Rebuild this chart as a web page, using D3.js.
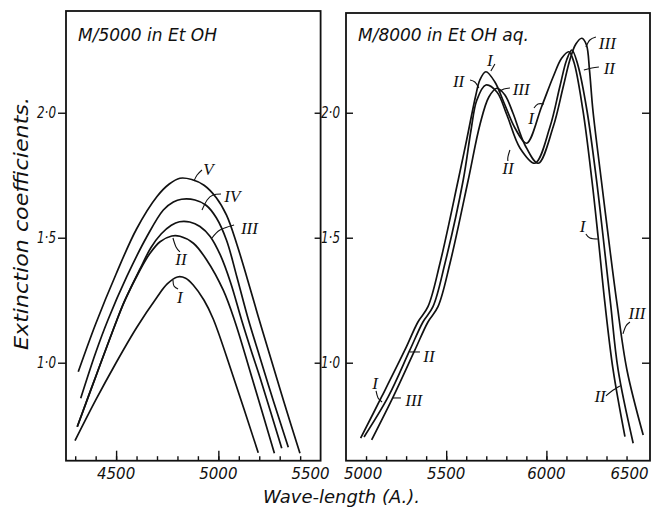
<!DOCTYPE html>
<html><head><meta charset="utf-8">
<script src="https://cdn.jsdelivr.net/npm/d3@7/dist/d3.min.js"></script>
<style>
html,body{margin:0;padding:0;background:#fff;}
svg{display:block;}
</style></head>
<body>
<script>
// ---------- DATA (wave-length in Å, extinction coefficient) ----------
const leftTitle = "M/5000 in Et OH";
const rightTitle = "M/8000 in Et OH aq.";
const yTickValues = [1.0, 1.5, 2.0];
const leftXLabels = [4500, 5000, 5500];
const rightXLabels = [5000, 5500, 6000, 6500];
const leftMinorTicks = d3.range(4300, 5500, 100);
const rightMinorTicks = d3.range(5100, 6500, 100);

// Left panel: M/5000 in EtOH
const leftI = [[4299,0.688],[4400,0.85],[4500,1.0],[4600,1.14],[4700,1.262],[4750,1.315],[4800,1.343],[4840,1.338],[4878,1.31],[4930,1.25],[4975,1.175],[5073,0.944],[5195,0.640]];
const leftII = [[4310,0.744],[4407,0.959],[4504,1.171],[4544,1.251],[4617,1.371],[4666,1.438],[4715,1.484],[4772,1.507],[4812,1.506],[4878,1.478],[4943,1.411],[5024,1.29],[5081,1.165],[5163,0.944],[5274,0.638]];
const leftIII = [[4310,0.744],[4407,0.959],[4504,1.171],[4544,1.251],[4617,1.375],[4670,1.46],[4720,1.515],[4770,1.55],[4810,1.564],[4860,1.563],[4910,1.545],[4960,1.505],[5010,1.43],[5060,1.32],[5114,1.17],[5160,1.05],[5204,0.94],[5310,0.658]];
const leftIV = [[4327,0.858],[4400,1.04],[4460,1.171],[4552,1.344],[4650,1.504],[4731,1.611],[4780,1.643],[4820,1.654],[4886,1.651],[4940,1.63],[4990,1.58],[5040,1.49],[5090,1.345],[5146,1.175],[5200,1.03],[5270,0.845],[5342,0.662]];
const leftV = [[4315,0.964],[4400,1.155],[4500,1.355],[4600,1.535],[4700,1.665],[4760,1.715],[4812,1.738],[4870,1.733],[4930,1.71],[4990,1.66],[5040,1.59],[5090,1.475],[5140,1.34],[5195,1.185],[5250,1.035],[5320,0.845],[5399,0.638]];

// Right panel: M/8000 in aqueous EtOH
const rightI = [[5073,0.698],[5178,0.864],[5294,1.051],[5359,1.163],[5409,1.224],[5469,1.398],[5560,1.731],[5602,1.891],[5648,2.071],[5668,2.131],[5698,2.164],[5743,2.123],[5793,2.031],[5843,1.939],[5901,1.878],[5976,2.024],[6034,2.144],[6076,2.218],[6112,2.244],[6137,2.203],[6182,2.011],[6227,1.731],[6258,1.504],[6292,1.238],[6333,0.971],[6392,0.704]];
const rightII = [[5090,0.703],[5211,0.864],[5319,1.051],[5384,1.163],[5434,1.224],[5494,1.398],[5585,1.731],[5624,1.931],[5653,2.051],[5698,2.111],[5753,2.083],[5803,1.991],[5868,1.859],[5943,1.798],[6018,1.944],[6067,2.104],[6101,2.211],[6127,2.251],[6157,2.191],[6202,2.011],[6250,1.731],[6283,1.504],[6320,1.238],[6358,0.971],[6433,0.678]];
const rightIII = [[5128,0.691],[5236,0.864],[5344,1.051],[5409,1.163],[5459,1.224],[5519,1.398],[5610,1.731],[5668,1.951],[5713,2.063],[5753,2.098],[5793,2.071],[5833,1.999],[5893,1.871],[5959,1.798],[6034,1.944],[6084,2.104],[6117,2.211],[6147,2.275],[6177,2.298],[6200,2.271],[6215,2.171],[6232,2.011],[6274,1.731],[6309,1.504],[6352,1.238],[6402,0.971],[6483,0.711]];

// Curve labels: text, label centre and leader line (data coordinates)
const leftLabels = [
  {t:"V",   at:[4951,1.772], lead:[[4881,1.727],[4896,1.751],[4920,1.771]]},
  {t:"IV",  at:[5068,1.665], lead:[[4920,1.611],[4945,1.651],[4974,1.671],[5013,1.675]]},
  {t:"III", at:[5152,1.537], lead:[[4969,1.499],[5008,1.531],[5077,1.551]]},
  {t:"II",  at:[4817,1.413], lead:[[4778,1.499],[4793,1.463],[4812,1.443]]},
  {t:"I",   at:[4812,1.261], lead:[[4778,1.331],[4783,1.307],[4803,1.295]]}
];
const rightLabels = [
  {t:"I",   at:[5718,2.209], lead:[[5723,2.167],[5743,2.195]]},
  {t:"II",  at:[5562,2.125], lead:[[5619,2.131],[5643,2.123],[5663,2.099]]},
  {t:"III", at:[5874,2.093], lead:[[5763,2.083],[5788,2.095],[5818,2.099]]},
  {t:"I",   at:[5923,1.977], lead:[[5938,2.019],[5958,2.035],[5988,2.035]]},
  {t:"II",  at:[5808,1.775], lead:[[5818,1.851],[5808,1.823],[5808,1.807]]},
  {t:"III", at:[6304,2.277], lead:[[6197,2.263],[6217,2.291],[6247,2.303]]},
  {t:"II",  at:[6314,2.177], lead:[[6187,2.171],[6227,2.179],[6262,2.183]]},
  {t:"I",   at:[6180,1.545], lead:[[6197,1.515],[6217,1.499],[6257,1.495]]},
  {t:"III", at:[6452,1.197], lead:[[6382,1.115],[6397,1.147],[6417,1.163]]},
  {t:"II",  at:[6268,0.865], lead:[[6297,0.867],[6327,0.887],[6367,0.907]]},
  {t:"II",  at:[5414,1.025], lead:[[5319,1.043],[5369,1.043]]},
  {t:"I",   at:[5145,0.917], lead:[[5150,0.887],[5160,0.859],[5180,0.843]]},
  {t:"III", at:[5338,0.849], lead:[[5234,0.859],[5274,0.859]]}
];

// ---------- LAYOUT ----------
const W = 659, H = 508;
const svg = d3.select("body").append("svg").attr("width", W).attr("height", H);
const yScale = d3.scaleLinear().domain([0.608, 2.407]).range([460.7, 11]);
const leftX = d3.scaleLinear().domain([4255, 5500]).range([66, 320.6]);
const rightX = d3.scaleLinear().domain([5000, 6517]).range([346, 650]);
const sansFont = "'DejaVu Sans', sans-serif";
const serifFont = "'Liberation Serif', 'DejaVu Serif', serif";
const ink = "#111";
const fmt = d => d3.format(".1f")(d).replace(".", "\u00B7");

function styleTicks(s) {
  s.select(".domain").remove();
  s.selectAll("line").attr("stroke", ink).attr("stroke-width", 1.4);
}
function styleYLabels(s) {
  s.selectAll("text").attr("font-family", sansFont).attr("font-style", "italic")
    .attr("font-size", 16).attr("textLength", 19).attr("lengthAdjust", "spacingAndGlyphs")
    .attr("fill", ink);
}

function panel(xs, topVal, curves, labels, title, xLabels, minor, majors, side) {
  const g = svg.append("g");
  const [x0, x1] = xs.range();
  const yb = yScale.range()[0], yt = yScale(topVal);
  // frame
  g.append("rect").attr("x", x0).attr("y", yt).attr("width", x1 - x0).attr("height", yb - yt)
    .attr("fill", "none").attr("stroke", ink).attr("stroke-width", 1.8);
  // bottom ticks (inward)
  g.append("g").attr("transform", `translate(0,${yb})`)
    .call(d3.axisBottom(xs).tickValues(minor).tickSize(-4.5).tickFormat("")).call(styleTicks);
  g.append("g").attr("transform", `translate(0,${yb})`)
    .call(d3.axisBottom(xs).tickValues(majors).tickSize(-10).tickFormat("")).call(styleTicks);
  // x labels
  xLabels.forEach((v, i) => {
    let anchor = "middle", dx = 0;
    if (side === "left" && i === xLabels.length - 1) { anchor = "end"; dx = 9; }
    if (side === "right" && i === 0) { anchor = "start"; dx = -2; }
    if (side === "right" && i === xLabels.length - 1) { anchor = "end"; dx = 2; }
    g.append("text").attr("x", xs(v) + dx).attr("y", 479).attr("text-anchor", anchor)
      .attr("font-family", sansFont).attr("font-style", "italic").attr("font-size", 15)
      .attr("fill", ink).text(v);
  });
  // y axes
  if (side === "left") {
    g.append("g").attr("transform", `translate(${x0},0)`)
      .call(d3.axisLeft(yScale).tickValues(yTickValues).tickSize(8).tickPadding(2).tickFormat(fmt))
      .call(styleTicks).call(styleYLabels);
    g.append("g").attr("transform", `translate(${x1},0)`)
      .call(d3.axisLeft(yScale).tickValues(yTickValues).tickSize(6).tickFormat(""))
      .call(styleTicks);
  } else {
    g.append("g").attr("transform", `translate(${x0},0)`)
      .call(d3.axisLeft(yScale).tickValues(yTickValues).tickSize(-7).tickPadding(6).tickFormat(fmt))
      .call(styleTicks).call(styleYLabels);
    g.append("g").attr("transform", `translate(${x1},0)`)
      .call(d3.axisLeft(yScale).tickValues(yTickValues).tickSize(8).tickFormat(""))
      .call(styleTicks);
  }
  // curves
  const line = d3.line().x(d => xs(d[0])).y(d => yScale(d[1])).curve(d3.curveCatmullRom.alpha(0.5));
  curves.forEach(c => {
    g.append("path").attr("d", line(c)).attr("fill", "none").attr("stroke", ink)
      .attr("stroke-width", 1.7).attr("stroke-linejoin", "round");
  });
  // labels
  const lead = d3.line().x(d => xs(d[0])).y(d => yScale(d[1])).curve(d3.curveNatural);
  labels.forEach(l => {
    g.append("path").attr("d", lead(l.lead)).attr("fill", "none").attr("stroke", ink).attr("stroke-width", 1.1);
    g.append("text").attr("x", xs(l.at[0])).attr("y", yScale(l.at[1]))
      .attr("text-anchor", "middle").attr("dominant-baseline", "central")
      .attr("font-family", serifFont).attr("font-style", "italic").attr("font-size", 17)
      .attr("fill", ink).text(l.t);
  });
  // title
  g.append("text").attr("x", x0 + 12).attr("y", 41).attr("font-family", sansFont)
    .attr("font-style", "italic").attr("font-size", 17).attr("fill", ink).text(title);
}

panel(leftX, 2.407, [leftI, leftII, leftIII, leftIV, leftV], leftLabels, leftTitle,
      leftXLabels, leftMinorTicks, [4500, 5000], "left");
panel(rightX, 2.399, [rightI, rightII, rightIII], rightLabels, rightTitle,
      rightXLabels, rightMinorTicks, [5500, 6000], "right");

// axis titles
svg.append("text").attr("transform", "translate(28,223.5) rotate(-90)")
  .attr("text-anchor", "middle").attr("font-family", sansFont).attr("font-style", "italic")
  .attr("font-size", 20).attr("textLength", 253).attr("lengthAdjust", "spacingAndGlyphs")
  .attr("fill", ink).text("Extinction coefficients.");
svg.append("text").attr("x", 341.5).attr("y", 503)
  .attr("text-anchor", "middle").attr("font-family", sansFont).attr("font-style", "italic")
  .attr("font-size", 18).attr("textLength", 157).attr("lengthAdjust", "spacingAndGlyphs")
  .attr("fill", ink).text("Wave-length (A.).");
</script>
</body></html>
